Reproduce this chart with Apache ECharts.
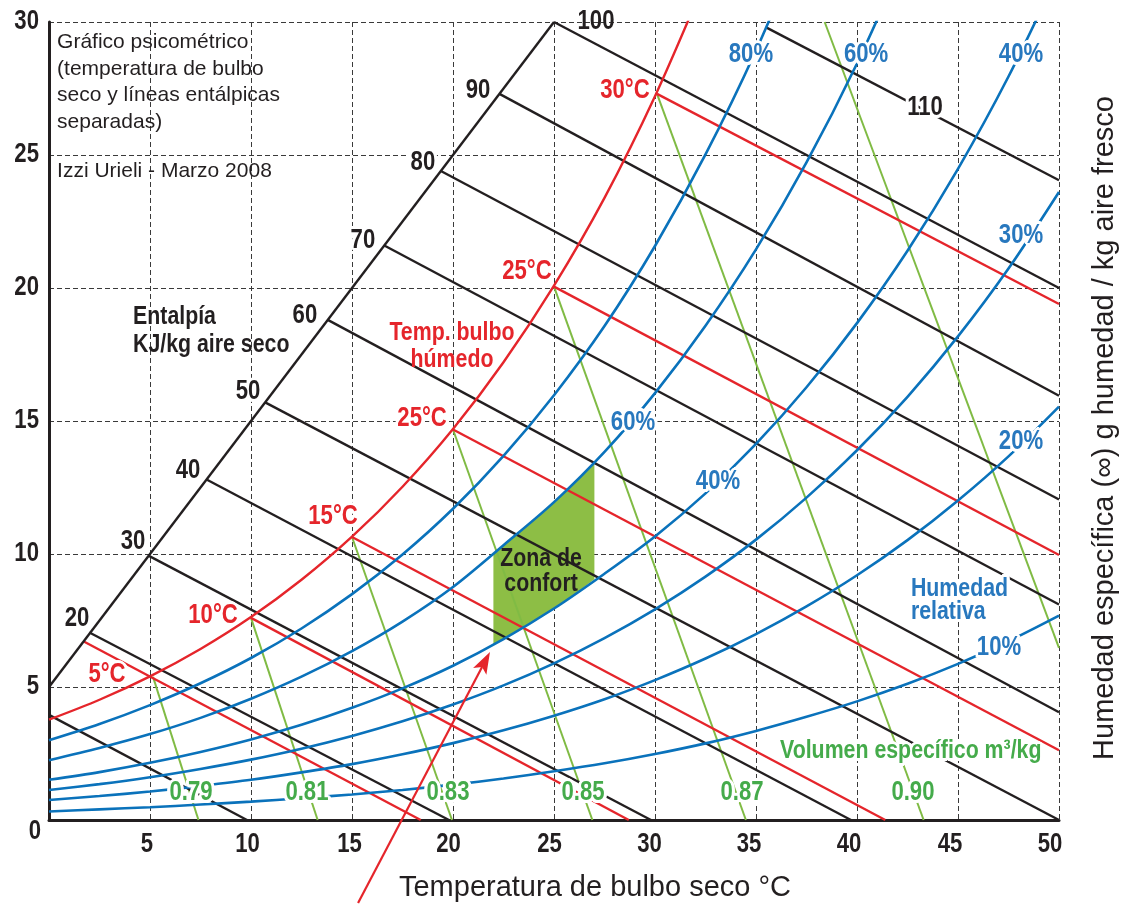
<!DOCTYPE html>
<html><head><meta charset="utf-8">
<script src="https://cdn.jsdelivr.net/npm/echarts@6/dist/echarts.min.js"></script>
<style>html,body{margin:0;padding:0;background:#fff}#c{width:1131px;height:905px}</style>
</head><body><div id="c"></div>
<script>
// ---------------- DATA ----------------
const TEMP = [0,2.5,5,7.5,10,12.5,15,17.5,20,22.5,25,27.5,30,32.5,35,37.5,40,42.5,45,47.5,50];
const RH_100 = [3.77,4.52,5.40,6.43,7.63,9.03,10.65,12.53,14.70,17.21,20.09,23.39,27.21,31.59];
const RH_80  = [3.00,3.61,4.32,5.14,6.09,7.20,8.49,9.98,11.70,13.69,15.97,18.57,21.58,25.02,28.93,33.40];
const RH_60  = [2.25,2.71,3.23,3.84,4.56,5.39,6.35,7.46,8.76,10.33,11.95,13.84,16.05,18.58,21.45,24.72,28.44,32.66];
const RH_40  = [1.51,1.80,2.15,2.56,3.03,3.58,4.22,4.95,5.80,6.80,7.95,9.26,10.66,12.28,14.14,16.27,18.68,21.40,24.48,27.95,31.88];
const RH_30  = [1.13,1.35,1.61,1.92,2.27,2.68,3.16,3.71,4.34,5.06,5.89,6.84,7.92,9.15,10.54,12.12,13.90,15.91,18.18,20.73,23.61];
const RH_20  = [0.75,0.90,1.07,1.28,1.51,1.79,2.10,2.47,2.89,3.37,3.92,4.54,5.26,6.07,6.99,8.03,9.20,10.52,12.01,13.67,15.54];
const RH_10  = [0.32,0.40,0.48,0.58,0.69,0.82,0.96,1.13,1.33,1.56,1.83,2.13,2.48,2.88,3.35,3.88,4.46,5.12,5.87,6.72,7.68];

const ENTH_SCALE = [[0,5],[25,30]];
const ENTH_H    = [10,20,30,40,50,60,70,80,90,100,110];
const ENTH_FROM = [[0,3.95],[2.0,7.05],[4.9,9.95],[7.8,12.8],[10.7,15.7],[13.8,18.8],[16.6,21.6],[19.4,24.4],[22.3,27.3],[25.0,30.0],[35.5,29.8]];
const ENTH_TO   = [[9.8,0],[19.8,0],[29.8,0],[39.7,0],[50,0],[50,4.05],[50,8.1],[50,12.05],[50,15.95],[50,20.0],[50,24.05]];

const WB_T    = [5,10,15,20,25,30];
const WB_FROM = [[1.7,6.72],[10.0,7.6],[15.0,10.64],[20.0,14.68],[25.0,20.05],[30.1,27.3]];
const WB_TO   = [[18.4,0],[28.7,0],[41.4,0],[50,2.62],[50,9.96],[50,19.4]];

const VOL      = [0.79,0.81,0.83,0.85,0.87,0.90,0.93];
const VOL_FROM = [[5.15,5.38],[10.0,7.6],[15.0,10.64],[20.0,14.68],[25.0,20.05],[30.1,27.3],[38.4,30]];
const VOL_TO   = [[7.4,0],[13.3,0],[19.95,0],[26.9,0],[34.5,0],[43.3,0],[50,6.47]];

const COMFORT_T  = [22,23,24,25,26,27];
const COMFORT_HI = [10.02,10.62,11.26,11.95,12.66,13.42];
const COMFORT_LO = [6.60,7.04,7.48,7.95,8.48,9.05];

const ARROW_FROM = [15.3,-3.12];
const ARROW_TO   = [21.83,6.32];

const X_TICKS = [5,10,15,20,25,30,35,40,45,50];
const Y_TICKS = [5,10,15,20,25,30];

// ---------------- STYLE ----------------
const RED='#e5252b', BLUE='#0a72bb', BLUE_T='#2878be', GREEN_L='#80bb44', GREEN_T='#45ab4b', BLACK='#231f20', ZONE='#8dbe45', GRID='#3a3a3a';
const FS = '"Liberation Sans",Arial,Helvetica,sans-serif';
const X_SHIFT = {5:3,10:3.5,15:2.5,20:4.5,25:4.5,30:5.5,35:7,40:8,45:8,50:9};

const series = [];
function addLine(data, color, width, z, smooth) {
  series.push({type:'line', data, symbol:'none', smooth: smooth || false, silent:true, z,
    lineStyle:{color, width}, clip:true});
}
const ZONE_POLY = COMFORT_T.map((t,i)=>[t,COMFORT_HI[i]]).concat(COMFORT_T.map((t,i)=>[t,COMFORT_LO[i]]).reverse());
series.push({type:'custom', silent:true, z:1, data:ZONE_POLY, encode:{x:0,y:1},
  renderItem:(params, api)=>{
    if (params.dataIndex !== 0) return null;
    return {type:'polygon', shape:{points:ZONE_POLY.map(p=>api.coord(p))}, style:{fill:ZONE}};
  }});
VOL.forEach((v,i)=>addLine([VOL_FROM[i],VOL_TO[i]], GREEN_L, 2, 2));
WB_T.forEach((v,i)=>addLine([WB_FROM[i],WB_TO[i]], RED, 2.4, 3));
addLine(ENTH_SCALE, BLACK, 2.4, 4);
ENTH_H.forEach((h,i)=>addLine([ENTH_FROM[i],ENTH_TO[i]], BLACK, 2.4, 4));
[RH_80,RH_60,RH_40,RH_30,RH_20,RH_10].forEach(arr=>addLine(arr.map((w,i)=>[TEMP[i],w]), BLUE, 2.6, 5, 0.3));
addLine(RH_100.map((w,i)=>[TEMP[i],w]), RED, 2.4, 5, 0.3);

// ---------------- TEXTS (positions in data coordinates) ----------------
const T = [];
function txt(text, x, y, color, opt) {
  T.push(Object.assign({text, x, y, color, size:26, weight:'bold', sx:0.82, halo:true, align:'center', lh:26, dx:0, dy:0}, opt||{}));
}
X_TICKS.forEach(v=>txt(String(v), v, 0, BLACK, {size:27, halo:false, dy:25, dx:-X_SHIFT[v]}));
Y_TICKS.forEach(v=>txt(String(v), 0, v, BLACK, {size:27, halo:false, dx:-10, align:'right'}));
txt('0', 0, 0, BLACK, {size:27, halo:false, dx:-14, dy:12});
const ENTH_POS = [null,[1.39,7.56],[4.16,10.45],[6.88,13.12],[9.85,16.09],[12.67,18.95],[15.54,21.80],[18.51,24.70],[21.24,27.44],[27.08,30.0],[43.37,26.77]];
ENTH_H.forEach((h,i)=>{ if (ENTH_POS[i]) txt(String(h), ENTH_POS[i][0], ENTH_POS[i][1], BLACK, {size:27, halo: h !== 100}); });
const WB_POS = [[2.87,5.45],[8.12,7.67],[14.06,11.39],[18.47,15.08],[23.66,20.60],[28.51,27.44]];
const WB_TXT = ['5°C','10°C','15°C','25°C','25°C','30°C'];
WB_POS.forEach((p,i)=>txt(WB_TXT[i], p[0], p[1], RED, {size:27}));
txt('Temp. bulbo\nhúmedo', 19.95, 17.82, RED, {halo:false, lh:27});
const RH_LBL = [['80%',34.75,28.76],['60%',40.45,28.76],['40%',48.12,28.76],['30%',48.12,21.99],['20%',48.12,14.21],['10%',47.03,6.47],['60%',28.91,14.96],['40%',33.12,12.71]];
RH_LBL.forEach(r=>txt(r[0], r[1], r[2], BLUE_T, {size:27}));
txt('Humedad\nrelativa', 42.67, 8.27, BLUE_T, {align:'left', lh:23});
const VOL_POS = [[7.03,1.02],[12.77,1.02],[19.75,1.02],[26.44,1.02],[34.31,1.02],[42.77,1.02]];
VOL_POS.forEach((p,i)=>txt(VOL[i].toFixed(2), p[0], p[1], GREEN_T, {size:27}));
txt('Volumen específico m³/kg', 36.19, 2.59, GREEN_T, {align:'left'});
txt('Entalpía\nKJ/kg aire seco', 4.16, 18.38, BLACK, {align:'left', halo:false, lh:28});
txt('Zona de\nconfort', 24.36, 9.36, BLACK, {halo:false, lh:25});
txt('Gráfico psicométrico\n(temperatura de bulbo\nseco y líneas entálpicas\nseparadas)', 0.4, 27.74, BLACK, {align:'left', halo:false, weight:'normal', size:21, sx:1, lh:26.7});
txt('Izzi Urieli - Marzo 2008', 0.4, 24.4, BLACK, {align:'left', halo:false, weight:'normal', size:21, sx:1});

const gridLine = {show:true, lineStyle:{color:GRID, width:1, type:[5,3]}};
const option = {
  animation:false,
  backgroundColor:'#ffffff',
  grid:{left:49, right:72, top:22, bottom:85, containLabel:false},
  xAxis:{type:'value', min:0, max:50, interval:5,
    axisLine:{show:true, onZero:false, lineStyle:{color:BLACK, width:3}}, axisTick:{show:false},
    axisLabel:{show:false}, splitLine:gridLine},
  yAxis:{type:'value', min:0, max:30, interval:5,
    axisLine:{show:true, lineStyle:{color:BLACK, width:3}}, axisTick:{show:false},
    axisLabel:{show:false}, splitLine:gridLine},
  series
};
const chart = echarts.init(document.getElementById('c'), null, {renderer:'canvas'});
chart.setOption(option);

// ---------------- overlay graphics placed through the axes' scales ----------------
function toPx(v) { return chart.convertToPixel({gridIndex:0}, v); }
function textStyle(a, fill) {
  return {text:a.text, fill:fill, font:a.weight+' '+a.size+'px '+FS,
    textAlign:a.align, textVerticalAlign:'middle', align:a.align, verticalAlign:'middle', lineHeight:a.lh, textLineHeight:a.lh};
}
const HALO_DIRS = [];
for (let d = 0; d < 360; d += 30) HALO_DIRS.push([Math.cos(d*Math.PI/180)*3, Math.sin(d*Math.PI/180)*3]);
const G = [];
G.push({type:'text', x:595, y:888, silent:true, z:100, style:{text:'Temperatura de bulbo seco °C', font:'29px '+FS, fill:BLACK, textAlign:'center', textVerticalAlign:'middle', align:'center', verticalAlign:'middle'}});
G.push({type:'text', x:1105, y:428, rotation:Math.PI/2, silent:true, z:100, style:{text:'Humedad específica (∞) g humedad / kg aire fresco', font:'29px '+FS, fill:BLACK, textAlign:'center', textVerticalAlign:'middle', align:'center', verticalAlign:'middle'}});
// arrow
(function(){
  const a = toPx(ARROW_FROM), b = toPx(ARROW_TO);
  const dx=b[0]-a[0], dy=b[1]-a[1], L=Math.hypot(dx,dy), ux=dx/L, uy=dy/L;
  const hl=22, hw=7.5;
  const base=[b[0]-ux*hl, b[1]-uy*hl], notch=[b[0]-ux*(hl-5), b[1]-uy*(hl-5)];
  G.push({type:'line', silent:true, z:90, shape:{x1:a[0],y1:a[1],x2:notch[0],y2:notch[1]}, style:{stroke:RED, lineWidth:2.2}});
  G.push({type:'polygon', silent:true, z:90, shape:{points:[b,[base[0]-uy*hw, base[1]+ux*hw],notch,[base[0]+uy*hw, base[1]-ux*hw]]}, style:{fill:RED}});
})();
T.forEach(a=>{
  const p = toPx([a.x, a.y]);
  const x = p[0]+a.dx, y = p[1]+a.dy;
  if (a.halo) {
    HALO_DIRS.forEach(o=>G.push({type:'text', silent:true, z:100, x:x+o[0], y:y+o[1], scaleX:a.sx, style:textStyle(a,'#ffffff')}));
  }
  G.push({type:'text', silent:true, z:101, x:x, y:y, scaleX:a.sx, style:textStyle(a, a.color)});
});
chart.setOption({graphic:G});
</script></body></html>
